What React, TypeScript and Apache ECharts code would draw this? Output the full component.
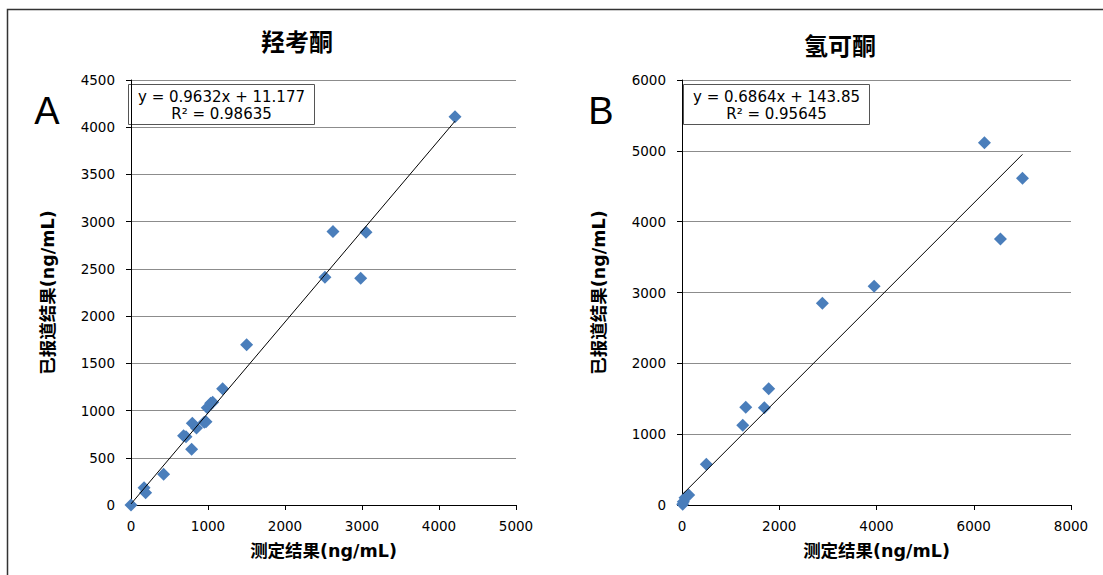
import React, { useEffect, useRef } from "react";
import * as echarts from "echarts";

// ---------- data ----------
const titleA = "羟考酮";
const titleB = "氢可酮";
const panelA = "A";
const panelB = "B";
const xName = "测定结果(ng/mL)";
const yName = "已报道结果(ng/mL)";

// chart A: measured (x) vs reported (y)
const measuredA = [0, 170, 190, 424, 683, 714, 796, 787, 851, 951, 974, 990, 1035, 1061, 1190, 1502, 2519, 2623, 2983, 3052, 4208];
const reportedA = [0, 183, 130, 325, 734, 723, 865, 590, 815, 875, 882, 1030, 1077, 1088, 1232, 1698, 2412, 2895, 2401, 2888, 4110];

// chart B
const measuredB = [14, 27, 62, 137, 500, 1249, 1311, 1694, 1783, 2887, 3951, 6220, 6549, 7002];
const reportedB = [10, 47, 103, 141, 574, 1125, 1379, 1374, 1642, 2847, 3088, 5115, 3755, 4612];

const fitA = { slope: 0.9632, intercept: 11.177 };
const fitB = { slope: 0.6864, intercept: 143.85 };
const eqA = ["y = 0.9632x + 11.177", "R² = 0.98635"];
const eqB = ["y = 0.6864x + 143.85", "R² = 0.95645"];

const axisA = { xMax: 5000, xStep: 1000, yMax: 4500, yStep: 500 };
const axisB = { xMax: 8000, xStep: 2000, yMax: 6000, yStep: 1000 };

// ---------- helpers ----------
const zip = (xs: number[], ys: number[]) => xs.map((x, i) => [x, ys[i]]);
const trend = (xs: number[], f: { slope: number; intercept: number }) => {
  const lo = Math.min(...xs);
  const hi = Math.max(...xs);
  return [
    [lo, f.slope * lo + f.intercept],
    [hi, f.slope * hi + f.intercept],
  ];
};

const tickFont = "'DejaVu Sans', Verdana, sans-serif";
const nameFont = "'DejaVu Sans', 'Noto Sans CJK SC', sans-serif";
const cjkFont = "'Noto Sans CJK SC', sans-serif";
const plain = (v: number) => String(v);

function makeX(idx: number, ax: { xMax: number; xStep: number }) {
  return {
    type: "value",
    gridIndex: idx,
    min: 0,
    max: ax.xMax,
    interval: ax.xStep,
    name: xName,
    nameLocation: "middle",
    nameGap: 37,
    nameTextStyle: { fontFamily: nameFont, fontSize: 17.5, fontWeight: "bold", color: "#000" },
    axisLine: { show: true, onZero: false, lineStyle: { color: "#000", width: 1 } },
    axisTick: { show: true, length: 5, inside: false, lineStyle: { color: "#000" } },
    axisLabel: { fontFamily: tickFont, fontSize: 13.5, color: "#000", margin: 14, formatter: plain },
    splitLine: { show: false },
  };
}

function makeY(idx: number, ax: { yMax: number; yStep: number }) {
  return {
    type: "value",
    gridIndex: idx,
    min: 0,
    max: ax.yMax,
    interval: ax.yStep,
    name: yName,
    nameLocation: "middle",
    nameGap: 74,
    nameTextStyle: { fontFamily: nameFont, fontSize: 17.5, fontWeight: "bold", color: "#000" },
    axisLine: { show: true, onZero: false, lineStyle: { color: "#000", width: 1 } },
    axisTick: { show: true, length: 5, inside: false, lineStyle: { color: "#000" } },
    axisLabel: { fontFamily: tickFont, fontSize: 13.5, color: "#000", margin: 16, formatter: plain },
    splitLine: { show: true, lineStyle: { color: "#8c8c8c", width: 1 } },
  };
}

function eqBox(x: number, y: number, w: number, h: number, lines: string[]) {
  return {
    type: "group",
    z: 100,
    children: [
      {
        type: "rect",
        shape: { x, y, width: w, height: h },
        style: { fill: "#fff", stroke: "#555", lineWidth: 1 },
      },
      {
        type: "text",
        x: x + w / 2,
        y: y + h * 0.3,
        style: { text: lines[0], fontFamily: tickFont, fontSize: 15, fill: "#000", textAlign: "center", textVerticalAlign: "middle" },
      },
      {
        type: "text",
        x: x + w / 2,
        y: y + h * 0.74,
        style: { text: lines[1], fontFamily: tickFont, fontSize: 15, fill: "#000", textAlign: "center", textVerticalAlign: "middle" },
      },
    ],
  };
}

export default function App() {
  const ref = useRef<HTMLDivElement>(null);

  useEffect(() => {
    if (!ref.current) return;
    const chart = echarts.init(ref.current, undefined, { renderer: "svg" });
    const marker = { color: "#4A7EBB", opacity: 1 };
    chart.setOption({
      animation: false,
      backgroundColor: "#fff",
      grid: [
        { left: 131, right: 587, top: 80, bottom: 70 },
        { left: 682, right: 32, top: 80, bottom: 70 },
      ],
      xAxis: [makeX(0, axisA), makeX(1, axisB)],
      yAxis: [makeY(0, axisA), makeY(1, axisB)],
      series: [
        {
          type: "scatter",
          xAxisIndex: 0,
          yAxisIndex: 0,
          symbol: "diamond",
          symbolSize: 13,
          itemStyle: marker,
          data: zip(measuredA, reportedA),
          z: 3,
        },
        {
          type: "line",
          xAxisIndex: 0,
          yAxisIndex: 0,
          data: trend(measuredA, fitA),
          symbol: "none",
          lineStyle: { color: "#000", width: 1 },
          z: 4,
        },
        {
          type: "scatter",
          xAxisIndex: 1,
          yAxisIndex: 1,
          symbol: "diamond",
          symbolSize: 13,
          itemStyle: marker,
          data: zip(measuredB, reportedB),
          z: 3,
        },
        {
          type: "line",
          xAxisIndex: 1,
          yAxisIndex: 1,
          data: trend(measuredB, fitB),
          symbol: "none",
          lineStyle: { color: "#000", width: 1 },
          z: 4,
        },
      ],
      graphic: [
        {
          type: "rect",
          z: -10,
          shape: { x: 7.5, y: 9.5, width: 1200, height: 700 },
          style: { fill: "none", stroke: "#333", lineWidth: 1.5 },
        },
        {
          type: "text",
          x: 297,
          y: 40,
          style: { text: titleA, fontFamily: cjkFont, fontSize: 24, fontWeight: "bold", fill: "#000", textAlign: "center", textVerticalAlign: "middle" },
        },
        {
          type: "text",
          x: 840,
          y: 44,
          style: { text: titleB, fontFamily: cjkFont, fontSize: 24, fontWeight: "bold", fill: "#000", textAlign: "center", textVerticalAlign: "middle" },
        },
        {
          type: "text",
          x: 47,
          y: 111,
          style: { text: panelA, fontFamily: "'Liberation Sans', Arial, sans-serif", fontSize: 38, fill: "#000", textAlign: "center", textVerticalAlign: "middle" },
        },
        {
          type: "text",
          x: 601,
          y: 111,
          style: { text: panelB, fontFamily: "'Liberation Sans', Arial, sans-serif", fontSize: 38, fill: "#000", textAlign: "center", textVerticalAlign: "middle" },
        },
        eqBox(128.5, 84.5, 186, 40, eqA),
        eqBox(683.5, 84.5, 186, 40, eqB),
      ],
    });
    return () => chart.dispose();
  }, []);

  return (
    <div
      ref={ref}
      style={{ position: "absolute", left: 0, top: 0, width: 1103, height: 575 }}
    />
  );
}
